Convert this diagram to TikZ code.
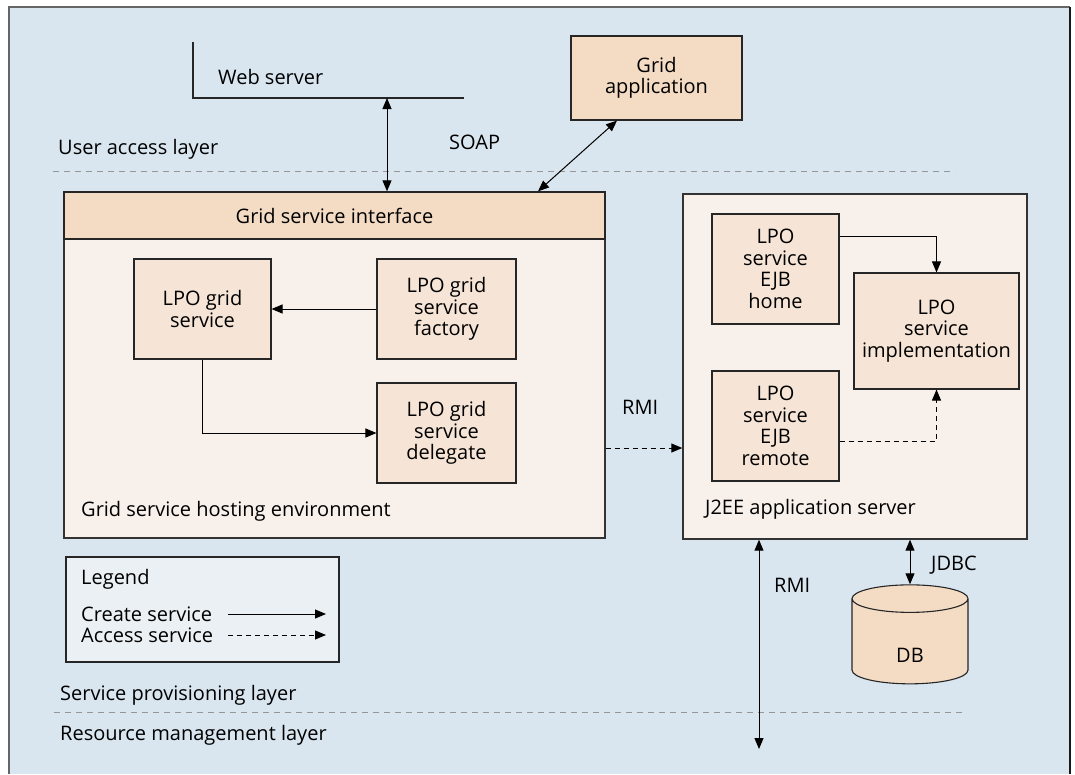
\documentclass[tikz,border=0pt]{standalone}
\usepackage{fontspec}
\setmainfont{Open Sans}
\usepackage{tikz}
\usetikzlibrary{arrows.meta, calc, positioning, shapes.geometric}
\definecolor{bgblue}{RGB}{217,230,239}
\definecolor{tanhead}{RGB}{244,220,196}
\definecolor{tanbox}{RGB}{246,229,214}
\definecolor{envfill}{RGB}{248,240,235}
\definecolor{legendfill}{RGB}{235,240,244}
\definecolor{tiergray}{RGB}{150,150,150}
\newcommand{\dfont}{\fontsize{20}{21.5}\selectfont}

\tikzset{
  every node/.style={font=\dfont},
  box/.style={draw=black!85, line width=1.1pt, fill=tanbox, align=center, inner sep=0pt},
  env/.style={draw=black!80, line width=1.4pt, fill=envfill, inner sep=0pt},
  lbl/.style={anchor=base west, inner sep=0pt},
  tierline/.style={tiergray, line width=0.9pt, dash pattern=on 6pt off 5pt},
  create/.style={line width=1pt, -{Triangle[length=11pt,width=9pt]}},
  access/.style={create, dash pattern=on 5pt off 4pt},
  both/.style={line width=1pt, {Triangle[length=11pt,width=9pt]}-{Triangle[length=11pt,width=9pt]}},
}

\begin{document}
\begin{tikzpicture}[x=1pt, y=-1pt]
  \useasboundingbox (0,0) rectangle (1075,774);
  % backdrop
  \fill[bgblue] (9,7) rectangle (1070,774);
  \draw[black!60, line width=1.6pt] (9,774) -- (9,7) -- (1070,7);
  \draw[black!90, line width=1.6pt] (1070,7) -- (1070,774);

  % layers
  \draw[tierline] (53,171) -- (955,171);
  \draw[tierline] (54,712) -- (963,712);
  \node[lbl] (useracc) at (58,154) {User access layer};
  \node[lbl] (provis) at (60,700) {Service provisioning layer};
  \node[lbl] (resmgmt) at (60,740) {Resource management layer};

  % user access
  \draw[line width=1.1pt, black!85] (193,42) -- (193,98) -- (464,98);
  \node[lbl] (websrv) at (218,84) {Web server};
  \coordinate (webport) at (387,98);
  \node[box, fill=tanhead, minimum width=171, minimum height=84] (gridapp) at (656.5,78) {Grid\\application};
  \node[lbl] (soap) at (449,149) {SOAP};

  % grid service hosting environment
  \node[env, minimum width=541, minimum height=346] (hosting) at (334.5,365) {};
  \node[box, fill=tanhead, line width=1.4pt, minimum width=541, minimum height=47] (gsi) at (334.5,215.5) {Grid service interface};
  \node[box, minimum width=137, minimum height=100] (gridsvc) at (202.5,309) {LPO grid\\service};
  \node[box, minimum width=139, minimum height=100] (factory) at (446.5,309) {LPO grid\\service\\factory};
  \node[box, minimum width=139, minimum height=100] (delegate) at (446.5,433) {LPO grid\\service\\delegate};
  \node[lbl] (hostlbl) at (81,516) {Grid service hosting environment};

  % J2EE application server
  \node[env, minimum width=344, minimum height=345] (j2ee) at (855,366.5) {};
  \node[box, minimum width=127, minimum height=110] (ejbhome) at (775.5,269) {LPO\\service\\EJB\\home};
  \node[box, minimum width=165, minimum height=116] (impl) at (936.5,331) {LPO\\service\\implementation};
  \node[box, minimum width=127, minimum height=110] (ejbremote) at (775.5,426) {LPO\\service\\EJB\\remote};
  \node[lbl] (j2eelbl) at (705,514) {J2EE application server};

  % database
  \node[draw=black!85, line width=1.1pt, fill=tanhead, shape=cylinder, shape border rotate=90,
        aspect=1.0, minimum width=116, minimum height=99, inner sep=0pt] (db) at (910,641.5)
        {\raisebox{-14pt}[\height][\depth]{DB}};

  % connectors
  \draw[both] (webport) -- (webport |- gsi.north);
  \draw[both] ([xshift=-39.5pt]gridapp.south) -- ([xshift=203.5pt]gsi.north);
  \draw[create] (factory) -- (gridsvc);
  \draw[create] (gridsvc) |- (delegate);
  \draw[create] ([yshift=33pt]ejbhome.east) -| (impl);
  \draw[access] ([yshift=-15pt]ejbremote.east) -| (impl);
  \draw[access] ([yshift=-83pt]hosting.east) -- ([yshift=-81.5pt]j2ee.west);
  \node[lbl] (rmimid) at (622,414) {RMI};
  \coordinate (resend) at (759,749);
  \draw[both] (j2ee.south -| resend) -- (resend);
  \node[lbl] (rmilow) at (774,592) {RMI};
  \draw[both] (j2ee.south -| db.north) -- (db.north);
  \node[lbl] (jdbc) at (931,570) {JDBC};

  % legend
  \node[draw=black!85, line width=1.1pt, fill=legendfill, minimum width=273, minimum height=105, inner sep=0pt] (legend) at (202.5,609.5) {};
  \node[lbl] (legendttl) at (81,584) {Legend};
  \node[lbl] (createlbl) at (81,621) {Create service};
  \node[lbl] (accesslbl) at (81,642) {Access service};
  \coordinate (createA) at (228,614);
  \coordinate (createB) at (326,614);
  \coordinate (accessA) at (228,635);
  \coordinate (accessB) at (326,635);
  \draw[create] (createA) -- (createB);
  \draw[access] (accessA) -- (accessB);
\end{tikzpicture}
\end{document}
